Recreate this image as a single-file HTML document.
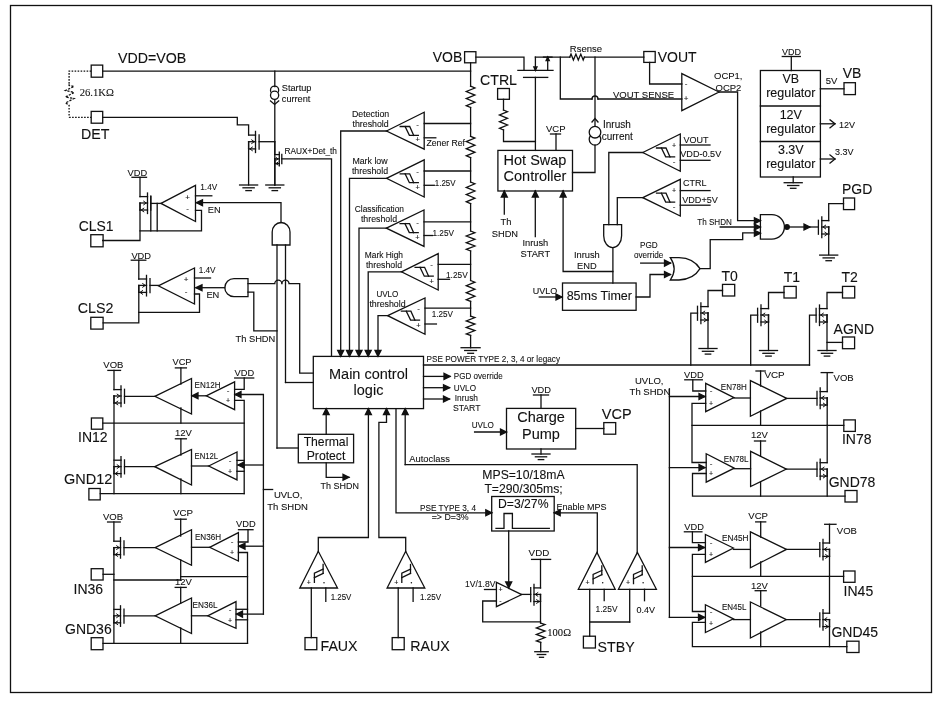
<!DOCTYPE html>
<html><head><meta charset="utf-8"><style>
html,body{margin:0;padding:0;background:#fff;}
svg{display:block;will-change:transform;}
</style></head><body>
<svg width="947" height="704" viewBox="0 0 947 704">
<g fill="none" stroke="#111" stroke-width="1.3" stroke-linecap="square">
<rect x="10.5" y="5.5" width="921" height="687"/>
<text fill="#111" stroke="#111" stroke-width="0.1" x="118" y="62.8" font-size="14.2" text-anchor="start" font-family="Liberation Sans" >VDD=VOB</text>
<rect x="91.2" y="65.1" width="11.5" height="12.1"/>
<line x1="102.7" y1="71.2" x2="470.6" y2="71.2"/>
<rect x="91.2" y="111.4" width="11.5" height="11.8"/>
<text fill="#111" stroke="#111" stroke-width="0.1" x="81" y="138.8" font-size="14.2" text-anchor="start" font-family="Liberation Sans" >DET</text>
<g stroke-dasharray="1.6,1.4" stroke-linecap="butt">
<polyline points="91.2,71.2 69.1,71.2 69.1,84.3"/>
<polyline points="69.1,117.3 91.2,117.3"/>
<polyline points="69.1,105 69.1,117.3"/>
</g>
<g stroke-dasharray="2.2,1.3" stroke-linecap="butt">
<polyline points="69.1,84.3 69.1,85.5 74,86.5 65.5,90.5 74,92.5 65.5,97 74,98.5 65.5,103 69.1,105"/>
</g>
<text fill="#111" stroke="#111" stroke-width="0.1" x="79.7" y="96" font-size="11" text-anchor="start" font-family="Liberation Serif"  textLength="34.2" lengthAdjust="spacingAndGlyphs">26.1KΩ</text>
<polyline points="102.7,117.3 237.3,117.3 237.3,124.8 248.6,124.8 248.6,134.9"/>
<line x1="274.8" y1="71.2" x2="274.8" y2="86.7"/>
<circle cx="274.6" cy="90.2" r="4.1"/>
<circle cx="274.6" cy="95.3" r="4.1" fill="#fff"/>
<line x1="274.8" y1="99.7" x2="274.8" y2="185"/>
<polyline points="270.5,101 274.6,104.5 278.7,101"/>
<text fill="#111" stroke="#111" stroke-width="0.1" x="281.8" y="91.2" font-size="9.2" text-anchor="start" font-family="Liberation Sans" >Startup</text>
<text fill="#111" stroke="#111" stroke-width="0.1" x="281.8" y="101.6" font-size="9.2" text-anchor="start" font-family="Liberation Sans" >current</text>
<line x1="255.5" y1="131.4" x2="255.5" y2="152.5"/>
<line x1="259.1" y1="134.8" x2="259.1" y2="149.1"/>
<line x1="248.6" y1="135.1" x2="255.5" y2="135.1"/>
<line x1="248.6" y1="141.7" x2="255.5" y2="141.7"/>
<line x1="248.6" y1="148.9" x2="255.5" y2="148.9"/>
<line x1="248.6" y1="141.7" x2="248.6" y2="148.9"/>
<polyline stroke-width="1" points="251.7,139.9 254.3,141.7 251.7,143.5"/>
<polyline stroke-width="1" points="252.4,147.1 249.8,148.9 252.4,150.7"/>
<line x1="259.1" y1="141.7" x2="274.8" y2="141.7"/>
<line x1="248.6" y1="141.9" x2="248.6" y2="185"/>
<line x1="239.6" y1="185" x2="257.6" y2="185"/>
<line x1="243" y1="187.8" x2="254.2" y2="187.8"/>
<line x1="245.9" y1="190.6" x2="251.3" y2="190.6"/>
<line x1="274.8" y1="141.8" x2="274.8" y2="154.4"/>
<line x1="279.3" y1="152.2" x2="279.3" y2="165.9"/>
<line x1="281.8" y1="154.4" x2="281.8" y2="163.7"/>
<line x1="274.8" y1="154.6" x2="279.3" y2="154.6"/>
<line x1="274.8" y1="158.9" x2="279.3" y2="158.9"/>
<line x1="274.8" y1="163.6" x2="279.3" y2="163.6"/>
<line x1="274.8" y1="158.9" x2="274.8" y2="163.6"/>
<polyline stroke-width="1" points="276.2,157.6 278.1,158.9 276.2,160.2"/>
<polyline stroke-width="1" points="277.9,162.2 276,163.6 277.9,164.9"/>
<line x1="274.8" y1="159" x2="274.8" y2="185"/>
<line x1="265.8" y1="185" x2="283.8" y2="185"/>
<line x1="269.2" y1="187.8" x2="280.4" y2="187.8"/>
<line x1="272.1" y1="190.6" x2="277.5" y2="190.6"/>
<polyline points="281.8,158.9 331.5,158.9 331.5,356.4"/>
<text fill="#111" stroke="#111" stroke-width="0.1" x="284.5" y="153.5" font-size="9.3" text-anchor="start" font-family="Liberation Sans"  textLength="52.5" lengthAdjust="spacingAndGlyphs">RAUX+Det_th</text>
<text fill="#111" stroke="#111" stroke-width="0.1" x="127.5" y="175.9" font-size="9.3" text-anchor="start" font-family="Liberation Sans" >VDD</text>
<line x1="132" y1="177.3" x2="146.5" y2="177.3"/>
<polyline points="140,177.3 140,196.6"/>
<line x1="147.5" y1="193" x2="147.5" y2="213.5"/>
<line x1="150.8" y1="196.3" x2="150.8" y2="210.2"/>
<line x1="140" y1="196.6" x2="147.5" y2="196.6"/>
<line x1="140" y1="203" x2="147.5" y2="203"/>
<line x1="140" y1="210" x2="147.5" y2="210"/>
<line x1="140" y1="203" x2="140" y2="210"/>
<polyline stroke-width="1" points="143.7,201.2 146.3,203 143.7,204.8"/>
<polyline stroke-width="1" points="143.8,208.2 141.2,210 143.8,211.8"/>
<polyline points="150.8,196.2 150.8,230.8"/>
<line x1="157.2" y1="203.4" x2="157.2" y2="230.8"/>
<line x1="150.8" y1="203.4" x2="161" y2="203.4"/>
<polyline points="140,203.4 140,240.5 102.7,240.5"/>
<polyline points="140,230.8 201.5,230.8 201.5,210.3 195.5,210.3"/>
<polygon fill="none" points="161,203.4 195.5,185.3 195.5,221.5"/>
<text fill="#111" stroke="#111" stroke-width="0.1" x="187.5" y="199.5" font-size="8" text-anchor="middle" font-family="Liberation Sans" >+</text>
<text fill="#111" stroke="#111" stroke-width="0.1" x="187.5" y="211" font-size="8" text-anchor="middle" font-family="Liberation Sans" >-</text>
<line x1="195.5" y1="195.8" x2="211.8" y2="195.8"/>
<text fill="#111" stroke="#111" stroke-width="0.1" x="200.3" y="189.8" font-size="9.3" text-anchor="start" font-family="Liberation Sans"  textLength="16.9" lengthAdjust="spacingAndGlyphs">1.4V</text>
<polyline points="281,222.6 281,202.7 196.5,202.7"/>
<polygon fill="#111" points="196.5,202.7 202.5,199.7 202.5,205.7"/>
<text fill="#111" stroke="#111" stroke-width="0.1" x="207.8" y="212.7" font-size="9.3" text-anchor="start" font-family="Liberation Sans" >EN</text>
<text fill="#111" stroke="#111" stroke-width="0.1" x="78.7" y="230.8" font-size="14.5" text-anchor="start" font-family="Liberation Sans"  textLength="34.8" lengthAdjust="spacingAndGlyphs">CLS1</text>
<rect x="90.8" y="234.7" width="12.3" height="12.1"/>
<text fill="#111" stroke="#111" stroke-width="0.1" x="131.4" y="258.8" font-size="9.3" text-anchor="start" font-family="Liberation Sans" >VDD</text>
<line x1="131.3" y1="260.2" x2="145.8" y2="260.2"/>
<polyline points="138.8,260.2 138.8,279"/>
<line x1="146.5" y1="275.4" x2="146.5" y2="295.9"/>
<line x1="150" y1="278.7" x2="150" y2="292.6"/>
<line x1="138.8" y1="279" x2="146.5" y2="279"/>
<line x1="138.8" y1="285.4" x2="146.5" y2="285.4"/>
<line x1="138.8" y1="292.4" x2="146.5" y2="292.4"/>
<line x1="138.8" y1="285.4" x2="138.8" y2="292.4"/>
<polyline stroke-width="1" points="142.7,283.6 145.3,285.4 142.7,287.2"/>
<polyline stroke-width="1" points="142.6,290.6 140,292.4 142.6,294.2"/>
<line x1="150" y1="285.4" x2="158.3" y2="285.4"/>
<polyline points="138.8,285.8 138.8,322.8 103.1,322.8"/>
<polyline points="138.8,312.4 199.5,312.4 199.5,294 194.5,294"/>
<polygon fill="none" points="158.3,285.8 194.5,268 194.5,304"/>
<text fill="#111" stroke="#111" stroke-width="0.1" x="186" y="282" font-size="8" text-anchor="middle" font-family="Liberation Sans" >+</text>
<text fill="#111" stroke="#111" stroke-width="0.1" x="186" y="293.5" font-size="8" text-anchor="middle" font-family="Liberation Sans" >-</text>
<line x1="194.5" y1="278" x2="210.5" y2="278"/>
<text fill="#111" stroke="#111" stroke-width="0.1" x="198.7" y="272.6" font-size="9.3" text-anchor="start" font-family="Liberation Sans"  textLength="16.9" lengthAdjust="spacingAndGlyphs">1.4V</text>
<polyline points="224.7,287.7 196,287.7"/>
<polygon fill="#111" points="196,287.7 202,284.7 202,290.7"/>
<text fill="#111" stroke="#111" stroke-width="0.1" x="206.4" y="298" font-size="9.3" text-anchor="start" font-family="Liberation Sans" >EN</text>
<text fill="#111" stroke="#111" stroke-width="0.1" x="77.8" y="313.2" font-size="14.5" text-anchor="start" font-family="Liberation Sans"  textLength="35.7" lengthAdjust="spacingAndGlyphs">CLS2</text>
<rect x="90.8" y="317.3" width="12.3" height="11.8"/>
<path d="M272.2,245 V232 A8.9,9.5 0 0 1 290,232 V245 Z"/>
<path d="M248,278.6 H234 A9.2,9.05 0 0 0 234,296.7 H248 Z"/>
<line x1="277" y1="245" x2="277" y2="448"/>
<line x1="285.5" y1="245" x2="285.5" y2="382.5"/>
<line x1="285.5" y1="382.5" x2="313.3" y2="382.5"/>
<path d="M248,283.6 H274.8 A3.5,3.5 0 0 1 281.8,283.6 H282 A3.5,3.5 0 0 1 289,283.6 H299.7 V373.1 H313.3"/>
<polyline points="248,292.2 253.8,292.2 253.8,330.9 277,330.9"/>
<text fill="#111" stroke="#111" stroke-width="0.1" x="235.5" y="342" font-size="9.3" text-anchor="start" font-family="Liberation Sans" >Th SHDN</text>
<polyline points="277,448 298.3,448"/>
<line x1="470.6" y1="62.8" x2="470.6" y2="86.2"/>
<polyline points="470.6,86.2 474.9,88 466.3,91.5 474.9,95.1 466.3,98.6 474.9,102.2 466.3,105.7 470.6,107.5"/>
<line x1="470.6" y1="107.5" x2="470.6" y2="136.3"/>
<polyline points="470.6,136.3 474.9,138.1 466.3,141.6 474.9,145.2 466.3,148.7 474.9,152.3 466.3,155.8 470.6,157.6"/>
<line x1="470.6" y1="157.6" x2="470.6" y2="182"/>
<polyline points="470.6,182 474.9,183.8 466.3,187.4 474.9,191 466.3,194.6 474.9,198.2 466.3,201.8 470.6,203.6"/>
<line x1="470.6" y1="203.6" x2="470.6" y2="231"/>
<polyline points="470.6,231 474.9,232.7 466.3,236 474.9,239.3 466.3,242.7 474.9,246 466.3,249.3 470.6,251"/>
<line x1="470.6" y1="251" x2="470.6" y2="280.5"/>
<polyline points="470.6,280.5 474.9,282.2 466.3,285.7 474.9,289.2 466.3,292.7 474.9,296.2 466.3,299.7 470.6,301.4"/>
<line x1="470.6" y1="301.4" x2="470.6" y2="316"/>
<polyline points="470.6,316 474.9,317.6 466.3,320.9 474.9,324.1 466.3,327.4 474.9,330.6 466.3,333.9 470.6,335.5"/>
<line x1="470.6" y1="335.5" x2="470.6" y2="347.7"/>
<line x1="461.1" y1="347.7" x2="480.1" y2="347.7"/>
<line x1="464.7" y1="350.5" x2="476.5" y2="350.5"/>
<line x1="467.8" y1="353.3" x2="473.5" y2="353.3"/>
<polygon fill="none" points="386.5,131 424.2,112.2 424.2,149.1"/>
<path d="M400.2,126.5 H409.7 L413.7,135.4"/>
<path d="M405.1,126.5 L409.4,135.4 H418.3"/>
<text fill="#111" stroke="#111" stroke-width="0.1" x="417.7" y="126.5" font-size="8" text-anchor="middle" font-family="Liberation Sans" >-</text>
<text fill="#111" stroke="#111" stroke-width="0.1" x="417.7" y="142.1" font-size="7.5" text-anchor="middle" font-family="Liberation Sans" >+</text>
<line x1="424.2" y1="123.5" x2="470.6" y2="123.5"/>
<line x1="424.2" y1="137.8" x2="435.8" y2="137.8"/>
<polyline points="386.5,131 340.7,131 340.7,356.4"/>
<polygon fill="#111" points="340.7,356.4 337.7,350.4 343.7,350.4"/>
<text fill="#111" stroke="#111" stroke-width="0.1" x="370.6" y="117.3" font-size="8.8" text-anchor="middle" font-family="Liberation Sans" >Detection</text>
<text fill="#111" stroke="#111" stroke-width="0.1" x="370.6" y="127" font-size="8.8" text-anchor="middle" font-family="Liberation Sans" >threshold</text>
<text fill="#111" stroke="#111" stroke-width="0.1" x="426.5" y="145.5" font-size="9" text-anchor="start" font-family="Liberation Sans"  textLength="38.5" lengthAdjust="spacingAndGlyphs">Zener Ref</text>
<polygon fill="none" points="386.5,178.3 424.2,159.8 424.2,197"/>
<path d="M400.2,173.8 H409.7 L413.7,182.7"/>
<path d="M405.1,173.8 L409.4,182.7 H418.3"/>
<text fill="#111" stroke="#111" stroke-width="0.1" x="417.7" y="174" font-size="8" text-anchor="middle" font-family="Liberation Sans" >-</text>
<text fill="#111" stroke="#111" stroke-width="0.1" x="417.7" y="189.6" font-size="7.5" text-anchor="middle" font-family="Liberation Sans" >+</text>
<line x1="424.2" y1="171" x2="470.6" y2="171"/>
<line x1="424.2" y1="185.3" x2="434.3" y2="185.3"/>
<polyline points="386.5,178.3 349.5,178.3 349.5,356.4"/>
<polygon fill="#111" points="349.5,356.4 346.5,350.4 352.5,350.4"/>
<text fill="#111" stroke="#111" stroke-width="0.1" x="370" y="164.2" font-size="8.8" text-anchor="middle" font-family="Liberation Sans" >Mark low</text>
<text fill="#111" stroke="#111" stroke-width="0.1" x="370" y="173.6" font-size="8.8" text-anchor="middle" font-family="Liberation Sans" >threshold</text>
<text fill="#111" stroke="#111" stroke-width="0.1" x="434.8" y="186" font-size="9" text-anchor="start" font-family="Liberation Sans"  textLength="20.7" lengthAdjust="spacingAndGlyphs">1.25V</text>
<polygon fill="none" points="386.4,228.2 424,210 424,246.4"/>
<path d="M400.1,223.7 H409.6 L413.6,232.6"/>
<path d="M405,223.7 L409.3,232.6 H418.2"/>
<text fill="#111" stroke="#111" stroke-width="0.1" x="417.5" y="224.8" font-size="8" text-anchor="middle" font-family="Liberation Sans" >-</text>
<text fill="#111" stroke="#111" stroke-width="0.1" x="417.5" y="239.8" font-size="7.5" text-anchor="middle" font-family="Liberation Sans" >+</text>
<line x1="424" y1="221.8" x2="470.6" y2="221.8"/>
<line x1="424" y1="235.5" x2="432.5" y2="235.5"/>
<polyline points="386.4,228.2 359,228.2 359,356.4"/>
<polygon fill="#111" points="359,356.4 356,350.4 362,350.4"/>
<text fill="#111" stroke="#111" stroke-width="0.1" x="354.8" y="212" font-size="8.8" text-anchor="start" font-family="Liberation Sans"  textLength="49.2" lengthAdjust="spacingAndGlyphs">Classification</text>
<text fill="#111" stroke="#111" stroke-width="0.1" x="379" y="222.4" font-size="8.8" text-anchor="middle" font-family="Liberation Sans" >threshold</text>
<text fill="#111" stroke="#111" stroke-width="0.1" x="432.5" y="236" font-size="9" text-anchor="start" font-family="Liberation Sans"  textLength="21.5" lengthAdjust="spacingAndGlyphs">1.25V</text>
<polygon fill="none" points="401.4,271.8 438.2,253.6 438.2,290"/>
<path d="M415.1,267.3 H424.6 L428.6,276.2"/>
<path d="M420,267.3 L424.3,276.2 H433.2"/>
<text fill="#111" stroke="#111" stroke-width="0.1" x="431.7" y="267.3" font-size="8" text-anchor="middle" font-family="Liberation Sans" >-</text>
<text fill="#111" stroke="#111" stroke-width="0.1" x="431.7" y="283.6" font-size="7.5" text-anchor="middle" font-family="Liberation Sans" >+</text>
<line x1="438.2" y1="264.3" x2="470.6" y2="264.3"/>
<line x1="438.2" y1="279.3" x2="449.5" y2="279.3"/>
<polyline points="401.4,271.8 368.2,271.8 368.2,356.4"/>
<polygon fill="#111" points="368.2,356.4 365.2,350.4 371.2,350.4"/>
<text fill="#111" stroke="#111" stroke-width="0.1" x="364.8" y="257.7" font-size="8.8" text-anchor="start" font-family="Liberation Sans"  textLength="38.2" lengthAdjust="spacingAndGlyphs">Mark High</text>
<text fill="#111" stroke="#111" stroke-width="0.1" x="384" y="268.3" font-size="8.8" text-anchor="middle" font-family="Liberation Sans" >threshold</text>
<text fill="#111" stroke="#111" stroke-width="0.1" x="446" y="277.5" font-size="9" text-anchor="start" font-family="Liberation Sans"  textLength="21.7" lengthAdjust="spacingAndGlyphs">1.25V</text>
<polygon fill="none" points="387.7,315.7 425,298 425,334.3"/>
<path d="M401.4,311.2 H410.9 L414.9,320.1"/>
<path d="M406.3,311.2 L410.6,320.1 H419.5"/>
<text fill="#111" stroke="#111" stroke-width="0.1" x="418.5" y="311.2" font-size="8" text-anchor="middle" font-family="Liberation Sans" >-</text>
<text fill="#111" stroke="#111" stroke-width="0.1" x="418.5" y="328.3" font-size="7.5" text-anchor="middle" font-family="Liberation Sans" >+</text>
<line x1="425" y1="308.2" x2="470.6" y2="308.2"/>
<line x1="425" y1="324" x2="436.4" y2="324"/>
<polyline points="387.7,315.7 378,315.7 378,356.4"/>
<polygon fill="#111" points="378,356.4 375,350.4 381,350.4"/>
<text fill="#111" stroke="#111" stroke-width="0.1" x="376.4" y="296.8" font-size="8.8" text-anchor="start" font-family="Liberation Sans"  textLength="22" lengthAdjust="spacingAndGlyphs">UVLO</text>
<text fill="#111" stroke="#111" stroke-width="0.1" x="387.5" y="307.2" font-size="8.8" text-anchor="middle" font-family="Liberation Sans" >threshold</text>
<text fill="#111" stroke="#111" stroke-width="0.1" x="431.8" y="317.3" font-size="9" text-anchor="start" font-family="Liberation Sans"  textLength="21.2" lengthAdjust="spacingAndGlyphs">1.25V</text>
<rect x="313.3" y="356.4" width="110.2" height="52.2"/>
<text fill="#111" stroke="#111" stroke-width="0.1" x="368.5" y="378.7" font-size="14.5" text-anchor="middle" font-family="Liberation Sans" >Main control</text>
<text fill="#111" stroke="#111" stroke-width="0.1" x="368.5" y="395.2" font-size="14.5" text-anchor="middle" font-family="Liberation Sans" >logic</text>
<line x1="423.5" y1="365" x2="809.5" y2="365"/>
<text fill="#111" stroke="#111" stroke-width="0.1" x="426.5" y="361.7" font-size="9.8" text-anchor="start" font-family="Liberation Sans"  textLength="133.5" lengthAdjust="spacingAndGlyphs">PSE POWER TYPE 2, 3, 4 or legacy</text>
<line x1="423.5" y1="376.4" x2="450" y2="376.4"/>
<polygon fill="#111" points="450,376.4 444,373.4 444,379.4"/>
<text fill="#111" stroke="#111" stroke-width="0.1" x="453.8" y="378.5" font-size="9.3" text-anchor="start" font-family="Liberation Sans"  textLength="48.9" lengthAdjust="spacingAndGlyphs">PGD override</text>
<line x1="423.5" y1="387.7" x2="449.5" y2="387.7"/>
<polygon fill="#111" points="449.5,387.7 443.5,384.7 443.5,390.7"/>
<text fill="#111" stroke="#111" stroke-width="0.1" x="453.8" y="390.7" font-size="9.3" text-anchor="start" font-family="Liberation Sans"  textLength="22.2" lengthAdjust="spacingAndGlyphs">UVLO</text>
<line x1="423.5" y1="399" x2="449.5" y2="399"/>
<polygon fill="#111" points="449.5,399 443.5,396 443.5,402"/>
<text fill="#111" stroke="#111" stroke-width="0.1" x="454.8" y="400.5" font-size="9.3" text-anchor="start" font-family="Liberation Sans"  textLength="23.2" lengthAdjust="spacingAndGlyphs">Inrush</text>
<text fill="#111" stroke="#111" stroke-width="0.1" x="452.9" y="410.5" font-size="9.3" text-anchor="start" font-family="Liberation Sans"  textLength="27.6" lengthAdjust="spacingAndGlyphs">START</text>
<rect x="298.3" y="434.3" width="55.3" height="28.5"/>
<text fill="#111" stroke="#111" stroke-width="0.1" x="326" y="445.6" font-size="12.2" text-anchor="middle" font-family="Liberation Sans" >Thermal</text>
<text fill="#111" stroke="#111" stroke-width="0.1" x="326" y="460" font-size="12.2" text-anchor="middle" font-family="Liberation Sans" >Protect</text>
<line x1="326.2" y1="434.3" x2="326.2" y2="408.6"/>
<polygon fill="#111" points="326.2,408.6 323.2,414.6 329.2,414.6"/>
<polyline points="326.2,462.8 326.2,477.3 349,477.3"/>
<polygon fill="#111" points="349,477.3 343,474.3 343,480.3"/>
<text fill="#111" stroke="#111" stroke-width="0.1" x="320.6" y="489.2" font-size="9.3" text-anchor="start" font-family="Liberation Sans"  textLength="38.4" lengthAdjust="spacingAndGlyphs">Th SHDN</text>
<polygon fill="none" points="318.3,551.3 299.8,588 337.5,588"/>
<path d="M314.4,582.3 V573.1 L323.1,569.2"/>
<path d="M314.4,577.7 L323.1,573.4"/>
<path d="M323.1,564.5 V573.4"/>
<text fill="#111" stroke="#111" stroke-width="0.1" x="308.9" y="584.5" font-size="7" text-anchor="middle" font-family="Liberation Sans" >+</text>
<circle cx="324.0" cy="582.8" r="0.75" fill="#111" stroke="none"/>
<polyline points="318.3,551.3 318.3,537.5 368.4,537.5 368.4,408.6"/>
<polygon fill="#111" points="368.4,408.6 365.4,414.6 371.4,414.6"/>
<line x1="311.3" y1="588" x2="311.3" y2="637.6"/>
<line x1="325.8" y1="588" x2="325.8" y2="601.4"/>
<text fill="#111" stroke="#111" stroke-width="0.1" x="330.7" y="599.9" font-size="8.5" text-anchor="start" font-family="Liberation Sans"  textLength="20.7" lengthAdjust="spacingAndGlyphs">1.25V</text>
<rect x="305" y="637.6" width="11.8" height="12.1"/>
<text fill="#111" stroke="#111" stroke-width="0.1" x="320.5" y="651.4" font-size="14.2" text-anchor="start" font-family="Liberation Sans" >FAUX</text>
<polygon fill="none" points="405.7,551.3 387.1,588 424.8,588"/>
<path d="M401.8,582.3 V573.1 L410.5,569.2"/>
<path d="M401.8,577.7 L410.5,573.4"/>
<path d="M410.5,564.5 V573.4"/>
<text fill="#111" stroke="#111" stroke-width="0.1" x="396.3" y="584.5" font-size="7" text-anchor="middle" font-family="Liberation Sans" >+</text>
<circle cx="411.4" cy="582.8" r="0.75" fill="#111" stroke="none"/>
<polyline points="405.7,551.3 405.7,537.5 378.9,537.5 378.9,422.3 386.5,422.3 386.5,408.6"/>
<polygon fill="#111" points="386.5,408.6 383.5,414.6 389.5,414.6"/>
<line x1="398.2" y1="588" x2="398.2" y2="637.6"/>
<line x1="413.1" y1="588" x2="413.1" y2="601.4"/>
<text fill="#111" stroke="#111" stroke-width="0.1" x="420" y="600" font-size="8.5" text-anchor="start" font-family="Liberation Sans"  textLength="21" lengthAdjust="spacingAndGlyphs">1.25V</text>
<rect x="392.2" y="637.6" width="12" height="12.1"/>
<text fill="#111" stroke="#111" stroke-width="0.1" x="410.3" y="651.4" font-size="14.2" text-anchor="start" font-family="Liberation Sans" >RAUX</text>
<line x1="405.2" y1="408.6" x2="405.2" y2="464.6"/>
<polygon fill="#111" points="405.2,408.6 402.2,414.6 408.2,414.6"/>
<polyline points="405.2,464.6 637.2,464.6 637.2,552.4"/>
<text fill="#111" stroke="#111" stroke-width="0.1" x="409.3" y="461.8" font-size="9.5" text-anchor="start" font-family="Liberation Sans"  textLength="40.5" lengthAdjust="spacingAndGlyphs">Autoclass</text>
<polyline points="396,408.6 396,512.8 491.8,512.8"/>
<polygon fill="#111" points="491.8,512.8 485.8,509.8 485.8,515.8"/>
<text fill="#111" stroke="#111" stroke-width="0.1" x="420" y="510.5" font-size="8.8" text-anchor="start" font-family="Liberation Sans"  textLength="56" lengthAdjust="spacingAndGlyphs">PSE TYPE 3, 4</text>
<text fill="#111" stroke="#111" stroke-width="0.1" x="431.7" y="519.5" font-size="8.8" text-anchor="start" font-family="Liberation Sans"  textLength="37" lengthAdjust="spacingAndGlyphs">=&gt; D=3%</text>
<rect x="506.5" y="408.4" width="69.2" height="40.6"/>
<text fill="#111" stroke="#111" stroke-width="0.1" x="541" y="421.7" font-size="14.5" text-anchor="middle" font-family="Liberation Sans" >Charge</text>
<text fill="#111" stroke="#111" stroke-width="0.1" x="541" y="438.9" font-size="14.5" text-anchor="middle" font-family="Liberation Sans" >Pump</text>
<text fill="#111" stroke="#111" stroke-width="0.1" x="531.4" y="392.8" font-size="9.3" text-anchor="start" font-family="Liberation Sans" >VDD</text>
<line x1="533.5" y1="395" x2="548.5" y2="395"/>
<line x1="541" y1="395" x2="541" y2="408.4"/>
<line x1="541" y1="449" x2="541" y2="454"/>
<line x1="532" y1="454" x2="550" y2="454"/>
<line x1="535.4" y1="456.8" x2="546.6" y2="456.8"/>
<line x1="538.3" y1="459.6" x2="543.7" y2="459.6"/>
<text fill="#111" stroke="#111" stroke-width="0.1" x="471.7" y="427.7" font-size="9" text-anchor="start" font-family="Liberation Sans"  textLength="22.1" lengthAdjust="spacingAndGlyphs">UVLO</text>
<line x1="474.6" y1="432" x2="506.5" y2="432"/>
<polygon fill="#111" points="506.5,432 500.5,429 500.5,435"/>
<line x1="575.7" y1="428.5" x2="603.8" y2="428.5"/>
<rect x="603.8" y="422.6" width="11.9" height="11.6"/>
<text fill="#111" stroke="#111" stroke-width="0.1" x="601.8" y="418.8" font-size="14.5" text-anchor="start" font-family="Liberation Sans" >VCP</text>
<text fill="#111" stroke="#111" stroke-width="0.1" x="523.5" y="478.5" font-size="12.2" text-anchor="middle" font-family="Liberation Sans" >MPS=10/18mA</text>
<text fill="#111" stroke="#111" stroke-width="0.1" x="523.5" y="492.7" font-size="12.2" text-anchor="middle" font-family="Liberation Sans" >T=290/305ms;</text>
<rect x="491.7" y="496.5" width="62.5" height="34.5"/>
<text fill="#111" stroke="#111" stroke-width="0.1" x="498" y="507.5" font-size="12.2" text-anchor="start" font-family="Liberation Sans" >D=3/27%</text>
<polyline points="496,528.3 504,528.3 504,513.5 512.4,513.5 512.4,528.3 549.3,528.3"/>
<text fill="#111" stroke="#111" stroke-width="0.1" x="556.5" y="509.9" font-size="9" text-anchor="start" font-family="Liberation Sans" >Enable MPS</text>
<polyline points="597.3,552.4 597.3,512.8 554.2,512.8"/>
<polygon fill="#111" points="554.2,512.8 560.2,509.8 560.2,515.8"/>
<line x1="508.7" y1="531" x2="508.7" y2="587"/>
<polygon fill="#111" points="508.7,588 505.7,582 511.7,582"/>
<polygon fill="none" points="521.8,594.6 496.4,582.3 496.4,606.6"/>
<text fill="#111" stroke="#111" stroke-width="0.1" x="500.5" y="591.5" font-size="7" text-anchor="middle" font-family="Liberation Sans" >+</text>
<text fill="#111" stroke="#111" stroke-width="0.1" x="500.5" y="603" font-size="7" text-anchor="middle" font-family="Liberation Sans" >-</text>
<text fill="#111" stroke="#111" stroke-width="0.1" x="465" y="587" font-size="9" text-anchor="start" font-family="Liberation Sans"  textLength="30.4" lengthAdjust="spacingAndGlyphs">1V/1.8V</text>
<line x1="484.5" y1="589.5" x2="496.4" y2="589.5"/>
<polyline points="496.4,601 482.7,601 482.7,621.8 540.5,621.8"/>
<line x1="534" y1="584.3" x2="534" y2="605"/>
<line x1="530.7" y1="587.6" x2="530.7" y2="601.7"/>
<line x1="540.5" y1="587.9" x2="534" y2="587.9"/>
<line x1="540.5" y1="594.4" x2="534" y2="594.4"/>
<line x1="540.5" y1="601.5" x2="534" y2="601.5"/>
<line x1="540.5" y1="594.4" x2="540.5" y2="601.5"/>
<polyline stroke-width="1" points="537.8,592.6 535.2,594.4 537.8,596.2"/>
<polyline stroke-width="1" points="536.7,599.7 539.3,601.5 536.7,603.3"/>
<line x1="530.7" y1="594.4" x2="521.8" y2="594.4"/>
<polyline points="540.5,588 540.5,559.4"/>
<line x1="531.6" y1="559.4" x2="550.6" y2="559.4"/>
<text fill="#111" stroke="#111" stroke-width="0.1" x="528.6" y="556.2" font-size="9.3" text-anchor="start" font-family="Liberation Sans"  textLength="20.7" lengthAdjust="spacingAndGlyphs">VDD</text>
<line x1="540.5" y1="594.7" x2="540.5" y2="623"/>
<polyline points="540.7,623 545,624.6 536.4,627.9 545,631.1 536.4,634.4 545,637.6 536.4,640.9 540.7,642.5"/>
<line x1="540.7" y1="642.5" x2="540.7" y2="651.7"/>
<line x1="534.8" y1="651.7" x2="548.2" y2="651.7"/>
<line x1="537.3" y1="654.5" x2="545.7" y2="654.5"/>
<line x1="539.5" y1="657.3" x2="543.5" y2="657.3"/>
<text fill="#111" stroke="#111" stroke-width="0.1" x="547.3" y="635.6" font-size="11" text-anchor="start" font-family="Liberation Serif"  textLength="23.7" lengthAdjust="spacingAndGlyphs">100Ω</text>
<polygon fill="none" points="597,552.4 578.3,589.3 615.2,589.3"/>
<path d="M593.1,583.6 V574.4 L601.8,570.5"/>
<path d="M593.1,579 L601.8,574.7"/>
<path d="M601.8,565.8 V574.7"/>
<text fill="#111" stroke="#111" stroke-width="0.1" x="587.6" y="584.5" font-size="7" text-anchor="middle" font-family="Liberation Sans" >+</text>
<circle cx="602.7" cy="582.8" r="0.75" fill="#111" stroke="none"/>
<line x1="589.7" y1="589.3" x2="589.7" y2="636.2"/>
<line x1="604.2" y1="589.3" x2="604.2" y2="600.7"/>
<text fill="#111" stroke="#111" stroke-width="0.1" x="595.6" y="612" font-size="8.5" text-anchor="start" font-family="Liberation Sans"  textLength="21.9" lengthAdjust="spacingAndGlyphs">1.25V</text>
<polygon fill="none" points="637.4,552.4 618.4,589.3 656.4,589.3"/>
<path d="M633.5,583.6 V574.4 L642.2,570.5"/>
<path d="M633.5,579 L642.2,574.7"/>
<path d="M642.2,565.8 V574.7"/>
<text fill="#111" stroke="#111" stroke-width="0.1" x="628" y="584.5" font-size="7" text-anchor="middle" font-family="Liberation Sans" >+</text>
<circle cx="643.1" cy="582.8" r="0.75" fill="#111" stroke="none"/>
<line x1="629.7" y1="589.3" x2="629.7" y2="622"/>
<line x1="644.5" y1="589.3" x2="644.5" y2="600.7"/>
<text fill="#111" stroke="#111" stroke-width="0.1" x="636.5" y="613" font-size="8.5" text-anchor="start" font-family="Liberation Sans"  textLength="18.5" lengthAdjust="spacingAndGlyphs">0.4V</text>
<line x1="589.7" y1="622" x2="629.7" y2="622"/>
<rect x="583.4" y="636.2" width="12" height="11.8"/>
<text fill="#111" stroke="#111" stroke-width="0.1" x="597.6" y="651.8" font-size="14.2" text-anchor="start" font-family="Liberation Sans" >STBY</text>
<text fill="#111" stroke="#111" stroke-width="0.1" x="432.7" y="61.5" font-size="14" text-anchor="start" font-family="Liberation Sans" >VOB</text>
<rect x="464.6" y="51.7" width="11.3" height="11.1"/>
<polyline points="475.9,57.1 524,57.1 524,70.4"/>
<line x1="517.9" y1="70.4" x2="553" y2="70.4"/>
<line x1="523.6" y1="77.4" x2="547.7" y2="77.4"/>
<line x1="535.4" y1="77.4" x2="535.4" y2="150.4"/>
<line x1="535.4" y1="57.1" x2="535.4" y2="70.4"/>
<polygon fill="#111" points="535.4,70.4 533.8,66.9 537,66.9"/>
<line x1="547.7" y1="57.1" x2="547.7" y2="70.4"/>
<polygon fill="#111" points="547.7,57.1 546.1,60.6 549.3,60.6"/>
<line x1="543.5" y1="57.1" x2="552" y2="57.1"/>
<line x1="535.4" y1="57.1" x2="569.8" y2="57.1"/>
<polyline points="569.8,57.1 571,54.1 573.4,60.1 575.9,54.1 578.3,60.1 580.8,54.1 583.2,60.1 584.4,57.1"/>
<line x1="584.4" y1="57.1" x2="643.8" y2="57.1"/>
<rect x="643.8" y="51.5" width="11.4" height="10.9"/>
<text fill="#111" stroke="#111" stroke-width="0.1" x="657.7" y="61.7" font-size="14" text-anchor="start" font-family="Liberation Sans" >VOUT</text>
<text fill="#111" stroke="#111" stroke-width="0.1" x="569.8" y="51.7" font-size="9.5" text-anchor="start" font-family="Liberation Sans" >Rsense</text>
<polyline points="560.3,57.1 560.3,99 592,99"/>
<path d="M592,99 A3,3 0 0 1 598,99"/>
<line x1="598" y1="99" x2="681.8" y2="99"/>
<text fill="#111" stroke="#111" stroke-width="0.1" x="613" y="98" font-size="9.5" text-anchor="start" font-family="Liberation Sans" >VOUT SENSE</text>
<line x1="595" y1="57.1" x2="595" y2="127"/>
<polyline points="592,122 595,118.6 598,122"/>
<circle cx="595" cy="139.3" r="5.8"/>
<circle cx="595" cy="132.2" r="5.8" fill="#fff"/>
<polyline points="595,145.1 595,172.5 572.5,172.5"/>
<text fill="#111" stroke="#111" stroke-width="0.1" x="603" y="127.6" font-size="10" text-anchor="start" font-family="Liberation Sans" >Inrush</text>
<text fill="#111" stroke="#111" stroke-width="0.1" x="601.7" y="140" font-size="10" text-anchor="start" font-family="Liberation Sans" >current</text>
<polyline points="649.6,62.4 649.6,84 681.8,84"/>
<polygon fill="none" points="719,92 681.8,73.6 681.8,110.6"/>
<text fill="#111" stroke="#111" stroke-width="0.1" x="686" y="86" font-size="8" text-anchor="middle" font-family="Liberation Sans" >-</text>
<text fill="#111" stroke="#111" stroke-width="0.1" x="686" y="101" font-size="8" text-anchor="middle" font-family="Liberation Sans" >+</text>
<polyline points="719,92 737.6,92 737.6,220.7 760.4,220.7"/>
<polygon fill="#111" points="760.4,220.7 754.4,217.7 754.4,223.7"/>
<text fill="#111" stroke="#111" stroke-width="0.1" x="714" y="79.4" font-size="9.5" text-anchor="start" font-family="Liberation Sans" >OCP1,</text>
<text fill="#111" stroke="#111" stroke-width="0.1" x="715.5" y="90.8" font-size="9.5" text-anchor="start" font-family="Liberation Sans" >OCP2</text>
<text fill="#111" stroke="#111" stroke-width="0.1" x="480" y="84.5" font-size="14.3" text-anchor="start" font-family="Liberation Sans"  textLength="37" lengthAdjust="spacingAndGlyphs">CTRL</text>
<rect x="497.6" y="88.5" width="11.8" height="10.8"/>
<line x1="503.5" y1="99.3" x2="503.5" y2="110"/>
<polyline points="503.5,110 507.5,111.7 499.5,115 507.5,118.3 499.5,121.7 507.5,125 499.5,128.3 503.5,130"/>
<polyline points="503.5,130 503.5,141.5 535.4,141.5"/>
<text fill="#111" stroke="#111" stroke-width="0.1" x="546" y="132" font-size="9.5" text-anchor="start" font-family="Liberation Sans" >VCP</text>
<line x1="550.5" y1="134" x2="560.5" y2="134"/>
<line x1="556" y1="134" x2="556" y2="150.4"/>
<rect x="497.9" y="150.4" width="74.6" height="40.6"/>
<text fill="#111" stroke="#111" stroke-width="0.1" x="535" y="164.5" font-size="14.5" text-anchor="middle" font-family="Liberation Sans" >Hot Swap</text>
<text fill="#111" stroke="#111" stroke-width="0.1" x="535" y="181.3" font-size="14.5" text-anchor="middle" font-family="Liberation Sans" >Controller</text>
<line x1="504.3" y1="214.2" x2="504.3" y2="191"/>
<polygon fill="#111" points="504.3,191 501.3,197 507.3,197"/>
<line x1="535.3" y1="236.7" x2="535.3" y2="191"/>
<polygon fill="#111" points="535.3,191 532.3,197 538.3,197"/>
<polyline points="612.9,271.5 563.1,271.5 563.1,191"/>
<polygon fill="#111" points="563.1,191 560.1,197 566.1,197"/>
<text fill="#111" stroke="#111" stroke-width="0.1" x="505.9" y="225.3" font-size="9.3" text-anchor="middle" font-family="Liberation Sans" >Th</text>
<text fill="#111" stroke="#111" stroke-width="0.1" x="504.9" y="236.7" font-size="9.3" text-anchor="middle" font-family="Liberation Sans" >SHDN</text>
<text fill="#111" stroke="#111" stroke-width="0.1" x="535.3" y="245.6" font-size="9.3" text-anchor="middle" font-family="Liberation Sans" >Inrush</text>
<text fill="#111" stroke="#111" stroke-width="0.1" x="535.3" y="256.6" font-size="9.3" text-anchor="middle" font-family="Liberation Sans" >START</text>
<text fill="#111" stroke="#111" stroke-width="0.1" x="586.8" y="257.6" font-size="9.3" text-anchor="middle" font-family="Liberation Sans" >Inrush</text>
<text fill="#111" stroke="#111" stroke-width="0.1" x="586.8" y="268.5" font-size="9.3" text-anchor="middle" font-family="Liberation Sans" >END</text>
<polygon fill="none" points="642.8,152.5 680.3,134 680.3,171.3"/>
<path d="M656.5,148 H666 L670,156.9"/>
<path d="M661.4,148 L665.7,156.9 H674.6"/>
<text fill="#111" stroke="#111" stroke-width="0.1" x="674" y="148" font-size="7" text-anchor="middle" font-family="Liberation Sans" >+</text>
<text fill="#111" stroke="#111" stroke-width="0.1" x="674" y="164" font-size="8" text-anchor="middle" font-family="Liberation Sans" >-</text>
<line x1="680.3" y1="145" x2="710" y2="145"/>
<line x1="680.3" y1="160.3" x2="710" y2="160.3"/>
<text fill="#111" stroke="#111" stroke-width="0.1" x="683.4" y="142.7" font-size="9" text-anchor="start" font-family="Liberation Sans" >VOUT</text>
<text fill="#111" stroke="#111" stroke-width="0.1" x="680.3" y="156.7" font-size="9.1" text-anchor="start" font-family="Liberation Sans" >VDD-0.5V</text>
<polygon fill="none" points="642.8,197.7 680.3,179.4 680.3,216"/>
<path d="M656.5,193.2 H666 L670,202.1"/>
<path d="M661.4,193.2 L665.7,202.1 H674.6"/>
<text fill="#111" stroke="#111" stroke-width="0.1" x="674" y="193" font-size="7" text-anchor="middle" font-family="Liberation Sans" >+</text>
<text fill="#111" stroke="#111" stroke-width="0.1" x="674" y="209" font-size="8" text-anchor="middle" font-family="Liberation Sans" >-</text>
<line x1="680.3" y1="190.6" x2="710" y2="190.6"/>
<line x1="680.3" y1="205.2" x2="710" y2="205.2"/>
<text fill="#111" stroke="#111" stroke-width="0.1" x="683" y="186.4" font-size="9" text-anchor="start" font-family="Liberation Sans" >CTRL</text>
<text fill="#111" stroke="#111" stroke-width="0.1" x="682.2" y="202.8" font-size="9.1" text-anchor="start" font-family="Liberation Sans" >VDD+5V</text>
<polyline points="642.8,152.5 608.8,152.5 608.8,224.7"/>
<polyline points="642.8,197.7 617.3,197.7 617.3,224.7"/>
<path d="M603.7,224.7 H621.6 V235.7 A8.95,11.9 0 0 1 603.7,235.7 Z"/>
<line x1="612.9" y1="247.6" x2="612.9" y2="283"/>
<rect x="562.5" y="283" width="73.6" height="27.3"/>
<text fill="#111" stroke="#111" stroke-width="0.1" x="599.3" y="300.3" font-size="12.5" text-anchor="middle" font-family="Liberation Sans" >85ms Timer</text>
<text fill="#111" stroke="#111" stroke-width="0.1" x="532.7" y="293.8" font-size="9" text-anchor="start" font-family="Liberation Sans" >UVLO</text>
<line x1="539.3" y1="297" x2="562" y2="297"/>
<polygon fill="#111" points="562,297 556,294 556,300"/>
<polyline points="636.1,297 650,297 650,274.5 670,274.5"/>
<polygon fill="#111" points="670.5,274.5 664.5,271.5 664.5,277.5"/>
<path d="M670.3,257.6 Q678,268.7 670.3,280 H679 Q693.5,279.5 700,268.7 Q693.5,258 679,257.6 Z"/>
<line x1="640.7" y1="263.1" x2="670.5" y2="263.1"/>
<polygon fill="#111" points="670.5,263.1 664.5,260.1 664.5,266.1"/>
<text fill="#111" stroke="#111" stroke-width="0.1" x="640" y="247.6" font-size="9" text-anchor="start" font-family="Liberation Sans"  textLength="17.7" lengthAdjust="spacingAndGlyphs">PGD</text>
<text fill="#111" stroke="#111" stroke-width="0.1" x="634" y="258" font-size="9" text-anchor="start" font-family="Liberation Sans"  textLength="29.3" lengthAdjust="spacingAndGlyphs">override</text>
<polyline points="700,268.7 710.2,268.7 710.2,239.6 742.7,239.6 742.7,232.9 760.4,232.9"/>
<polygon fill="#111" points="760.4,233.2 754.4,230.2 754.4,236.2"/>
<path d="M760.4,214.7 H771.8 A12.6,12.2 0 0 1 771.8,239.1 H760.4 Z"/>
<circle cx="787" cy="227" r="2.3" fill="#111"/>
<line x1="720.2" y1="227" x2="760.4" y2="227"/>
<polygon fill="#111" points="760.4,227 754.4,224 754.4,230"/>
<text fill="#111" stroke="#111" stroke-width="0.1" x="697.2" y="224.7" font-size="9.3" text-anchor="start" font-family="Liberation Sans"  textLength="34.7" lengthAdjust="spacingAndGlyphs">Th SHDN</text>
<line x1="789.5" y1="227" x2="817.6" y2="227"/>
<polygon fill="#111" points="810,227 804,224 804,230"/>
<line x1="821.8" y1="217" x2="821.8" y2="237.5"/>
<line x1="818.4" y1="220.3" x2="818.4" y2="234.2"/>
<line x1="828.7" y1="220.6" x2="821.8" y2="220.6"/>
<line x1="828.7" y1="227" x2="821.8" y2="227"/>
<line x1="828.7" y1="234" x2="821.8" y2="234"/>
<line x1="828.7" y1="227" x2="828.7" y2="234"/>
<polyline stroke-width="1" points="825.6,225.2 823,227 825.6,228.8"/>
<polyline stroke-width="1" points="824.9,232.2 827.5,234 824.9,235.8"/>
<polyline points="828.7,220.6 828.7,203.7 843.5,203.7"/>
<line x1="828.7" y1="227" x2="828.7" y2="254.7"/>
<line x1="819.7" y1="255.1" x2="837.7" y2="255.1"/>
<line x1="823.1" y1="257.9" x2="834.3" y2="257.9"/>
<line x1="826" y1="260.7" x2="831.4" y2="260.7"/>
<rect x="843.5" y="198" width="11.1" height="11.6"/>
<text fill="#111" stroke="#111" stroke-width="0.1" x="842" y="194.3" font-size="14" text-anchor="start" font-family="Liberation Sans" >PGD</text>
<rect x="760.4" y="70.5" width="60" height="106.5"/>
<line x1="760.4" y1="106" x2="820.4" y2="106"/>
<line x1="760.4" y1="141.5" x2="820.4" y2="141.5"/>
<text fill="#111" stroke="#111" stroke-width="0.1" x="790.8" y="83.2" font-size="12.5" text-anchor="middle" font-family="Liberation Sans" >VB</text>
<text fill="#111" stroke="#111" stroke-width="0.1" x="790.8" y="97.2" font-size="12.5" text-anchor="middle" font-family="Liberation Sans" >regulator</text>
<text fill="#111" stroke="#111" stroke-width="0.1" x="790.8" y="118.7" font-size="12.5" text-anchor="middle" font-family="Liberation Sans" >12V</text>
<text fill="#111" stroke="#111" stroke-width="0.1" x="790.8" y="132.6" font-size="12.5" text-anchor="middle" font-family="Liberation Sans" >regulator</text>
<text fill="#111" stroke="#111" stroke-width="0.1" x="790.8" y="153.7" font-size="12.5" text-anchor="middle" font-family="Liberation Sans" >3.3V</text>
<text fill="#111" stroke="#111" stroke-width="0.1" x="790.8" y="168" font-size="12.5" text-anchor="middle" font-family="Liberation Sans" >regulator</text>
<text fill="#111" stroke="#111" stroke-width="0.1" x="782" y="55.3" font-size="9" text-anchor="start" font-family="Liberation Sans" >VDD</text>
<line x1="782.3" y1="56.5" x2="800.3" y2="56.5"/>
<line x1="791.3" y1="56.5" x2="791.3" y2="70.5"/>
<line x1="793.2" y1="177" x2="793.2" y2="182.7"/>
<line x1="784.2" y1="182.7" x2="802.2" y2="182.7"/>
<line x1="787.6" y1="185.5" x2="798.8" y2="185.5"/>
<line x1="790.5" y1="188.3" x2="795.9" y2="188.3"/>
<text fill="#111" stroke="#111" stroke-width="0.1" x="825.8" y="83.7" font-size="9.5" text-anchor="start" font-family="Liberation Sans" >5V</text>
<line x1="820.4" y1="88.8" x2="844" y2="88.8"/>
<rect x="844" y="82.7" width="11.4" height="11.9"/>
<text fill="#111" stroke="#111" stroke-width="0.1" x="842.7" y="78" font-size="14" text-anchor="start" font-family="Liberation Sans" >VB</text>
<line x1="820.4" y1="123.8" x2="835" y2="123.8"/>
<polyline points="830,119.8 835,123.8 830,127.8"/>
<text fill="#111" stroke="#111" stroke-width="0.1" x="839" y="127.6" font-size="9" text-anchor="start" font-family="Liberation Sans" >12V</text>
<line x1="820.4" y1="159" x2="835" y2="159"/>
<polyline points="830,155 835,159 830,163"/>
<text fill="#111" stroke="#111" stroke-width="0.1" x="835" y="154.7" font-size="9" text-anchor="start" font-family="Liberation Sans" >3.3V</text>
<polyline points="690.8,365.1 690.8,313.2 697.5,313.2"/>
<line x1="700.9" y1="303" x2="700.9" y2="323.5"/>
<line x1="697.5" y1="306.3" x2="697.5" y2="320.2"/>
<line x1="708" y1="306.6" x2="700.9" y2="306.6"/>
<line x1="708" y1="313" x2="700.9" y2="313"/>
<line x1="708" y1="320" x2="700.9" y2="320"/>
<line x1="708" y1="313" x2="708" y2="320"/>
<polyline stroke-width="1" points="704.7,311.2 702.1,313 704.7,314.8"/>
<polyline stroke-width="1" points="704.2,318.2 706.8,320 704.2,321.8"/>
<polyline points="708,306.6 708,290.5 722.5,290.5"/>
<line x1="708" y1="313" x2="708" y2="348.5"/>
<line x1="699" y1="348.5" x2="717" y2="348.5"/>
<line x1="702.4" y1="351.3" x2="713.6" y2="351.3"/>
<line x1="705.3" y1="354.1" x2="710.7" y2="354.1"/>
<rect x="722.5" y="284.4" width="12.2" height="11.6"/>
<text fill="#111" stroke="#111" stroke-width="0.1" x="721.5" y="280.8" font-size="14" text-anchor="start" font-family="Liberation Sans" >T0</text>
<polyline points="750.7,365.1 750.7,315.2 757.6,315.2"/>
<line x1="761" y1="305" x2="761" y2="325.5"/>
<line x1="757.6" y1="308.3" x2="757.6" y2="322.2"/>
<line x1="768.5" y1="308.6" x2="761" y2="308.6"/>
<line x1="768.5" y1="315" x2="761" y2="315"/>
<line x1="768.5" y1="322" x2="761" y2="322"/>
<line x1="768.5" y1="315" x2="768.5" y2="322"/>
<polyline stroke-width="1" points="764.8,313.2 762.2,315 764.8,316.8"/>
<polyline stroke-width="1" points="764.7,320.2 767.3,322 764.7,323.8"/>
<polyline points="768.5,308.6 768.5,292.5 784,292.5"/>
<line x1="768.5" y1="315" x2="768.5" y2="350.5"/>
<line x1="759.5" y1="350.5" x2="777.5" y2="350.5"/>
<line x1="762.9" y1="353.3" x2="774.1" y2="353.3"/>
<line x1="765.8" y1="356.1" x2="771.2" y2="356.1"/>
<rect x="784" y="286.4" width="12.2" height="11.6"/>
<text fill="#111" stroke="#111" stroke-width="0.1" x="783.7" y="282" font-size="14" text-anchor="start" font-family="Liberation Sans" >T1</text>
<polyline points="809.5,365.1 809.5,315.2 816.1,315.2"/>
<line x1="819.5" y1="305" x2="819.5" y2="325.5"/>
<line x1="816.1" y1="308.3" x2="816.1" y2="322.2"/>
<line x1="827" y1="308.6" x2="819.5" y2="308.6"/>
<line x1="827" y1="315" x2="819.5" y2="315"/>
<line x1="827" y1="322" x2="819.5" y2="322"/>
<line x1="827" y1="315" x2="827" y2="322"/>
<polyline stroke-width="1" points="823.3,313.2 820.7,315 823.3,316.8"/>
<polyline stroke-width="1" points="823.2,320.2 825.8,322 823.2,323.8"/>
<polyline points="827,308.6 827,292.5 842.5,292.5"/>
<line x1="827" y1="315" x2="827" y2="350.5"/>
<line x1="818" y1="350.5" x2="836" y2="350.5"/>
<line x1="821.4" y1="353.3" x2="832.6" y2="353.3"/>
<line x1="824.3" y1="356.1" x2="829.7" y2="356.1"/>
<rect x="842.5" y="286.4" width="12.2" height="11.6"/>
<text fill="#111" stroke="#111" stroke-width="0.1" x="841.5" y="282" font-size="14" text-anchor="start" font-family="Liberation Sans" >T2</text>
<line x1="827" y1="342.4" x2="842.5" y2="342.4"/>
<rect x="842.5" y="337" width="12.1" height="11.7"/>
<text fill="#111" stroke="#111" stroke-width="0.1" x="833.6" y="333.5" font-size="14" text-anchor="start" font-family="Liberation Sans" >AGND</text>
<text fill="#111" stroke="#111" stroke-width="0.1" x="635" y="384" font-size="9.5" text-anchor="start" font-family="Liberation Sans" >UVLO,</text>
<text fill="#111" stroke="#111" stroke-width="0.1" x="629.6" y="394.9" font-size="9.5" text-anchor="start" font-family="Liberation Sans" >Th SHDN</text>
<line x1="669.4" y1="388.8" x2="669.4" y2="617.4"/>
<text fill="#111" stroke="#111" stroke-width="0.1" x="684" y="377.8" font-size="9.3" text-anchor="start" font-family="Liberation Sans" >VDD</text>
<line x1="684.8" y1="379.8" x2="702.3" y2="379.8"/>
<polyline points="692.8,379.8 692.8,391 705.7,391"/>
<line x1="669.4" y1="396.5" x2="705" y2="396.5"/>
<polygon fill="#111" points="705,396.5 699,393.5 699,399.5"/>
<polygon fill="none" points="734,397.6 705.7,383.3 705.7,411.6"/>
<text fill="#111" stroke="#111" stroke-width="0.1" x="711" y="393" font-size="8" text-anchor="middle" font-family="Liberation Sans" >-</text>
<text fill="#111" stroke="#111" stroke-width="0.1" x="711" y="405.5" font-size="7" text-anchor="middle" font-family="Liberation Sans" >+</text>
<text fill="#111" stroke="#111" stroke-width="0.1" x="720.8" y="389.5" font-size="9" text-anchor="start" font-family="Liberation Sans"  textLength="25.9" lengthAdjust="spacingAndGlyphs">EN78H</text>
<line x1="734" y1="398" x2="750.4" y2="398"/>
<polygon fill="none" points="786.7,398.4 750.4,380.6 750.4,416.3"/>
<text fill="#111" stroke="#111" stroke-width="0.1" x="764.4" y="377.8" font-size="9.3" text-anchor="start" font-family="Liberation Sans"  textLength="20.3" lengthAdjust="spacingAndGlyphs">VCP</text>
<line x1="756" y1="371" x2="765.2" y2="371"/>
<line x1="760.6" y1="371" x2="760.6" y2="386"/>
<line x1="760.6" y1="411" x2="760.6" y2="425.3"/>
<line x1="786.7" y1="398.4" x2="817" y2="398.4"/>
<line x1="820.2" y1="388" x2="820.2" y2="408.5"/>
<line x1="817" y1="391.3" x2="817" y2="405.2"/>
<line x1="827.2" y1="391.6" x2="820.2" y2="391.6"/>
<line x1="827.2" y1="398" x2="820.2" y2="398"/>
<line x1="827.2" y1="405" x2="820.2" y2="405"/>
<line x1="827.2" y1="398" x2="827.2" y2="405"/>
<polyline stroke-width="1" points="824,396.2 821.4,398 824,399.8"/>
<polyline stroke-width="1" points="823.4,403.2 826,405 823.4,406.8"/>
<polyline points="827.2,391.6 827.2,372.6"/>
<line x1="821.2" y1="372.6" x2="832.7" y2="372.6"/>
<line x1="827.2" y1="398" x2="827.2" y2="425.3"/>
<text fill="#111" stroke="#111" stroke-width="0.1" x="833.6" y="381.4" font-size="9.5" text-anchor="start" font-family="Liberation Sans" >VOB</text>
<polyline points="705.7,403.4 692,403.4 692,462.5 706.2,462.5"/>
<line x1="692" y1="425.3" x2="843.8" y2="425.3"/>
<rect x="843.8" y="419.9" width="11.5" height="11.5"/>
<text fill="#111" stroke="#111" stroke-width="0.1" x="841.9" y="443.7" font-size="14" text-anchor="start" font-family="Liberation Sans" >IN78</text>
<text fill="#111" stroke="#111" stroke-width="0.1" x="751" y="438" font-size="9.5" text-anchor="start" font-family="Liberation Sans" >12V</text>
<line x1="754.5" y1="441" x2="765.5" y2="441"/>
<line x1="760.6" y1="441" x2="760.6" y2="456"/>
<line x1="669.4" y1="467.6" x2="705" y2="467.6"/>
<polygon fill="#111" points="705,467.6 699,464.6 699,470.6"/>
<polygon fill="none" points="734.2,468.2 706.2,453.7 706.2,482.2"/>
<text fill="#111" stroke="#111" stroke-width="0.1" x="711" y="465.5" font-size="8" text-anchor="middle" font-family="Liberation Sans" >-</text>
<text fill="#111" stroke="#111" stroke-width="0.1" x="711" y="476" font-size="7" text-anchor="middle" font-family="Liberation Sans" >+</text>
<text fill="#111" stroke="#111" stroke-width="0.1" x="723.8" y="461.6" font-size="9" text-anchor="start" font-family="Liberation Sans"  textLength="24.7" lengthAdjust="spacingAndGlyphs">EN78L</text>
<line x1="734.2" y1="468.7" x2="750.6" y2="468.7"/>
<polygon fill="none" points="786.4,469.1 750.6,451.3 750.6,486.5"/>
<line x1="760.6" y1="482" x2="760.6" y2="496"/>
<line x1="786.4" y1="469.1" x2="817" y2="469.1"/>
<line x1="820.2" y1="459.1" x2="820.2" y2="479.6"/>
<line x1="817" y1="462.4" x2="817" y2="476.3"/>
<line x1="827.2" y1="462.7" x2="820.2" y2="462.7"/>
<line x1="827.2" y1="469.1" x2="820.2" y2="469.1"/>
<line x1="827.2" y1="476.1" x2="820.2" y2="476.1"/>
<line x1="827.2" y1="469.1" x2="827.2" y2="476.1"/>
<polyline stroke-width="1" points="824,467.3 821.4,469.1 824,470.9"/>
<polyline stroke-width="1" points="823.4,474.3 826,476.1 823.4,477.9"/>
<line x1="827.2" y1="425.3" x2="827.2" y2="462.7"/>
<line x1="827.2" y1="469.1" x2="827.2" y2="496.2"/>
<polyline points="706.2,473.5 692.5,473.5 692.5,496.2 845,496.2"/>
<rect x="845" y="490.5" width="12" height="11.5"/>
<text fill="#111" stroke="#111" stroke-width="0.1" x="828.7" y="486.9" font-size="14" text-anchor="start" font-family="Liberation Sans" >GND78</text>
<text fill="#111" stroke="#111" stroke-width="0.1" x="684.3" y="530" font-size="9.3" text-anchor="start" font-family="Liberation Sans" >VDD</text>
<line x1="684.4" y1="531.8" x2="701.9" y2="531.8"/>
<polyline points="692.4,531.8 692.4,542.6 705.4,542.6"/>
<line x1="669.4" y1="547.5" x2="704.5" y2="547.5"/>
<polygon fill="#111" points="704.5,547.5 698.5,544.5 698.5,550.5"/>
<polygon fill="none" points="733.4,548 705.4,534.5 705.4,562.4"/>
<text fill="#111" stroke="#111" stroke-width="0.1" x="711" y="545" font-size="8" text-anchor="middle" font-family="Liberation Sans" >-</text>
<text fill="#111" stroke="#111" stroke-width="0.1" x="711" y="557" font-size="7" text-anchor="middle" font-family="Liberation Sans" >+</text>
<text fill="#111" stroke="#111" stroke-width="0.1" x="722" y="541.3" font-size="9" text-anchor="start" font-family="Liberation Sans"  textLength="26.5" lengthAdjust="spacingAndGlyphs">EN45H</text>
<line x1="733.4" y1="549.4" x2="750.4" y2="549.4"/>
<polygon fill="none" points="786.4,549.4 750.4,531.8 750.4,567.8"/>
<text fill="#111" stroke="#111" stroke-width="0.1" x="748.3" y="519.2" font-size="9.3" text-anchor="start" font-family="Liberation Sans"  textLength="19.7" lengthAdjust="spacingAndGlyphs">VCP</text>
<line x1="755.7" y1="521.9" x2="765.7" y2="521.9"/>
<line x1="760.7" y1="521.9" x2="760.7" y2="537"/>
<line x1="760.7" y1="562" x2="760.7" y2="576.4"/>
<line x1="786.4" y1="549.4" x2="819.8" y2="549.4"/>
<line x1="823" y1="539.4" x2="823" y2="559.9"/>
<line x1="819.8" y1="542.7" x2="819.8" y2="556.6"/>
<line x1="829.5" y1="543" x2="823" y2="543"/>
<line x1="829.5" y1="549.4" x2="823" y2="549.4"/>
<line x1="829.5" y1="556.4" x2="823" y2="556.4"/>
<line x1="829.5" y1="549.4" x2="829.5" y2="556.4"/>
<polyline stroke-width="1" points="826.8,547.6 824.2,549.4 826.8,551.2"/>
<polyline stroke-width="1" points="825.7,554.6 828.3,556.4 825.7,558.2"/>
<polyline points="829.5,543 829.5,524.3"/>
<line x1="824.7" y1="524.3" x2="836" y2="524.3"/>
<line x1="829.5" y1="549.4" x2="829.5" y2="576.4"/>
<text fill="#111" stroke="#111" stroke-width="0.1" x="836.8" y="533.7" font-size="9.5" text-anchor="start" font-family="Liberation Sans" >VOB</text>
<polyline points="705.4,554.3 692.4,554.3 692.4,611.5 705.4,611.5"/>
<line x1="692.4" y1="576.4" x2="843.6" y2="576.4"/>
<rect x="843.6" y="571" width="11.4" height="11.3"/>
<text fill="#111" stroke="#111" stroke-width="0.1" x="843.6" y="595.8" font-size="14" text-anchor="start" font-family="Liberation Sans" >IN45</text>
<text fill="#111" stroke="#111" stroke-width="0.1" x="751" y="588.5" font-size="9.5" text-anchor="start" font-family="Liberation Sans" >12V</text>
<line x1="755.2" y1="590.7" x2="766.2" y2="590.7"/>
<line x1="760.7" y1="590.7" x2="760.7" y2="606"/>
<line x1="669.4" y1="617.4" x2="704.5" y2="617.4"/>
<polygon fill="#111" points="704.5,617.4 698.5,614.4 698.5,620.4"/>
<polygon fill="none" points="733.4,618.8 705.4,604.7 705.4,632.5"/>
<text fill="#111" stroke="#111" stroke-width="0.1" x="711" y="614" font-size="8" text-anchor="middle" font-family="Liberation Sans" >-</text>
<text fill="#111" stroke="#111" stroke-width="0.1" x="711" y="626" font-size="7" text-anchor="middle" font-family="Liberation Sans" >+</text>
<text fill="#111" stroke="#111" stroke-width="0.1" x="722" y="610" font-size="9" text-anchor="start" font-family="Liberation Sans"  textLength="24.4" lengthAdjust="spacingAndGlyphs">EN45L</text>
<line x1="733.4" y1="619.6" x2="750.4" y2="619.6"/>
<polygon fill="none" points="786.4,619.6 750.4,602 750.4,638"/>
<line x1="760.7" y1="632" x2="760.7" y2="646.6"/>
<line x1="786.4" y1="619.6" x2="819.8" y2="619.6"/>
<line x1="823" y1="609.6" x2="823" y2="630.1"/>
<line x1="819.8" y1="612.9" x2="819.8" y2="626.8"/>
<line x1="829.5" y1="613.2" x2="823" y2="613.2"/>
<line x1="829.5" y1="619.6" x2="823" y2="619.6"/>
<line x1="829.5" y1="626.6" x2="823" y2="626.6"/>
<line x1="829.5" y1="619.6" x2="829.5" y2="626.6"/>
<polyline stroke-width="1" points="826.8,617.8 824.2,619.6 826.8,621.4"/>
<polyline stroke-width="1" points="825.7,624.8 828.3,626.6 825.7,628.4"/>
<line x1="829.5" y1="576.4" x2="829.5" y2="613.2"/>
<line x1="829.5" y1="619.6" x2="829.5" y2="646.6"/>
<polyline points="705.4,622.3 692.4,622.3 692.4,646.6 846.8,646.6"/>
<rect x="846.8" y="641.2" width="12.2" height="11.3"/>
<text fill="#111" stroke="#111" stroke-width="0.1" x="831.4" y="637" font-size="14" text-anchor="start" font-family="Liberation Sans" >GND45</text>
<text fill="#111" stroke="#111" stroke-width="0.1" x="103.3" y="367.9" font-size="9.5" text-anchor="start" font-family="Liberation Sans" >VOB</text>
<line x1="107.9" y1="370.4" x2="120.5" y2="370.4"/>
<polyline points="114,370.4 114,389.6"/>
<line x1="121" y1="386" x2="121" y2="406.5"/>
<line x1="124.5" y1="389.3" x2="124.5" y2="403.2"/>
<line x1="114" y1="389.6" x2="121" y2="389.6"/>
<line x1="114" y1="396" x2="121" y2="396"/>
<line x1="114" y1="403" x2="121" y2="403"/>
<line x1="114" y1="396" x2="114" y2="403"/>
<polyline stroke-width="1" points="117.2,394.2 119.8,396 117.2,397.8"/>
<polyline stroke-width="1" points="117.8,401.2 115.2,403 117.8,404.8"/>
<line x1="114" y1="396" x2="114" y2="493.6"/>
<line x1="124.5" y1="396.3" x2="154.8" y2="396.3"/>
<polygon fill="none" points="154.8,396.3 191.5,378.5 191.5,414"/>
<text fill="#111" stroke="#111" stroke-width="0.1" x="172.5" y="365.3" font-size="9.3" text-anchor="start" font-family="Liberation Sans"  textLength="19" lengthAdjust="spacingAndGlyphs">VCP</text>
<line x1="175.4" y1="367.9" x2="186.4" y2="367.9"/>
<line x1="180.9" y1="367.9" x2="180.9" y2="384"/>
<line x1="180.9" y1="408" x2="180.9" y2="423.1"/>
<polyline points="206.2,395.8 192,395.8"/>
<polygon fill="#111" points="192,395.8 198,392.8 198,398.8"/>
<text fill="#111" stroke="#111" stroke-width="0.1" x="194.5" y="388" font-size="9" text-anchor="start" font-family="Liberation Sans"  textLength="26.1" lengthAdjust="spacingAndGlyphs">EN12H</text>
<polygon fill="none" points="206.2,395.8 234.6,381.8 234.6,409.7"/>
<text fill="#111" stroke="#111" stroke-width="0.1" x="228" y="392.5" font-size="8" text-anchor="middle" font-family="Liberation Sans" >-</text>
<text fill="#111" stroke="#111" stroke-width="0.1" x="228" y="403" font-size="7" text-anchor="middle" font-family="Liberation Sans" >+</text>
<text fill="#111" stroke="#111" stroke-width="0.1" x="234.6" y="376" font-size="9.3" text-anchor="start" font-family="Liberation Sans" >VDD</text>
<line x1="234.7" y1="378" x2="253.7" y2="378"/>
<polyline points="244.2,378 244.2,389.4 234.6,389.4"/>
<polyline points="263.4,541 263.4,394.5 235,394.5"/>
<polygon fill="#111" points="235,394.5 241,391.5 241,397.5"/>
<polyline points="234.6,400.3 244.2,400.3 244.2,493.6"/>
<line x1="102.8" y1="423.1" x2="244.2" y2="423.1"/>
<rect x="91.4" y="418" width="11.4" height="11.2"/>
<text fill="#111" stroke="#111" stroke-width="0.1" x="78" y="441.9" font-size="14" text-anchor="start" font-family="Liberation Sans" >IN12</text>
<text fill="#111" stroke="#111" stroke-width="0.1" x="175" y="435.8" font-size="9.5" text-anchor="start" font-family="Liberation Sans" >12V</text>
<line x1="175.4" y1="438.8" x2="186.4" y2="438.8"/>
<line x1="180.9" y1="438.8" x2="180.9" y2="455"/>
<line x1="121" y1="456.6" x2="121" y2="477.1"/>
<line x1="124.5" y1="459.9" x2="124.5" y2="473.8"/>
<line x1="114" y1="460.2" x2="121" y2="460.2"/>
<line x1="114" y1="466.6" x2="121" y2="466.6"/>
<line x1="114" y1="473.6" x2="121" y2="473.6"/>
<line x1="114" y1="466.6" x2="114" y2="473.6"/>
<polyline stroke-width="1" points="117.2,464.8 119.8,466.6 117.2,468.4"/>
<polyline stroke-width="1" points="117.8,471.8 115.2,473.6 117.8,475.4"/>
<line x1="124.5" y1="466.7" x2="154.8" y2="466.7"/>
<polygon fill="none" points="154.8,466.7 191.5,449.5 191.5,485"/>
<line x1="180.9" y1="479" x2="180.9" y2="493.6"/>
<line x1="208.7" y1="466" x2="191.5" y2="466"/>
<text fill="#111" stroke="#111" stroke-width="0.1" x="194.5" y="459.1" font-size="9" text-anchor="start" font-family="Liberation Sans"  textLength="23.6" lengthAdjust="spacingAndGlyphs">EN12L</text>
<polygon fill="none" points="208.7,466 237,452 237,479.9"/>
<text fill="#111" stroke="#111" stroke-width="0.1" x="230" y="463" font-size="8" text-anchor="middle" font-family="Liberation Sans" >-</text>
<text fill="#111" stroke="#111" stroke-width="0.1" x="230" y="474" font-size="7" text-anchor="middle" font-family="Liberation Sans" >+</text>
<line x1="237" y1="460.4" x2="244.2" y2="460.4"/>
<line x1="263.4" y1="465" x2="238" y2="465"/>
<polygon fill="#111" points="238,465 244,462 244,468"/>
<polyline points="237,471.3 244,471.3"/>
<line x1="100.3" y1="493.6" x2="244.2" y2="493.6"/>
<rect x="88.9" y="488.5" width="11.3" height="11.4"/>
<text fill="#111" stroke="#111" stroke-width="0.1" x="64.1" y="484" font-size="14.4" text-anchor="start" font-family="Liberation Sans"  textLength="48.3" lengthAdjust="spacingAndGlyphs">GND12</text>
<polyline points="263.4,489.5 272.6,489.5"/>
<text fill="#111" stroke="#111" stroke-width="0.1" x="273.9" y="498.3" font-size="9.5" text-anchor="start" font-family="Liberation Sans" >UVLO,</text>
<text fill="#111" stroke="#111" stroke-width="0.1" x="267.3" y="509.5" font-size="9.5" text-anchor="start" font-family="Liberation Sans" >Th SHDN</text>
<text fill="#111" stroke="#111" stroke-width="0.1" x="103" y="519.8" font-size="9.5" text-anchor="start" font-family="Liberation Sans" >VOB</text>
<line x1="107.6" y1="522" x2="120.2" y2="522"/>
<polyline points="113.9,522 113.9,541.2"/>
<line x1="120.5" y1="537.6" x2="120.5" y2="558.1"/>
<line x1="124" y1="540.9" x2="124" y2="554.8"/>
<line x1="113.9" y1="541.2" x2="120.5" y2="541.2"/>
<line x1="113.9" y1="547.6" x2="120.5" y2="547.6"/>
<line x1="113.9" y1="554.6" x2="120.5" y2="554.6"/>
<line x1="113.9" y1="547.6" x2="113.9" y2="554.6"/>
<polyline stroke-width="1" points="116.7,545.8 119.3,547.6 116.7,549.4"/>
<polyline stroke-width="1" points="117.7,552.8 115.1,554.6 117.7,556.4"/>
<line x1="113.9" y1="547.6" x2="113.9" y2="643.4"/>
<line x1="124" y1="547.6" x2="155.1" y2="547.6"/>
<polygon fill="none" points="155.1,547.6 191.5,529.7 191.5,565.3"/>
<text fill="#111" stroke="#111" stroke-width="0.1" x="173" y="516.4" font-size="9.3" text-anchor="start" font-family="Liberation Sans"  textLength="20" lengthAdjust="spacingAndGlyphs">VCP</text>
<line x1="175.2" y1="519.2" x2="186.2" y2="519.2"/>
<line x1="180.7" y1="519.2" x2="180.7" y2="536"/>
<line x1="180.7" y1="560" x2="180.7" y2="580"/>
<line x1="209.6" y1="547.3" x2="191.5" y2="547.3"/>
<text fill="#111" stroke="#111" stroke-width="0.1" x="194.9" y="539.7" font-size="9" text-anchor="start" font-family="Liberation Sans"  textLength="26.1" lengthAdjust="spacingAndGlyphs">EN36H</text>
<polygon fill="none" points="209.6,547.3 238.4,532.6 238.4,561"/>
<text fill="#111" stroke="#111" stroke-width="0.1" x="232" y="544" font-size="8" text-anchor="middle" font-family="Liberation Sans" >-</text>
<text fill="#111" stroke="#111" stroke-width="0.1" x="232" y="555" font-size="7" text-anchor="middle" font-family="Liberation Sans" >+</text>
<text fill="#111" stroke="#111" stroke-width="0.1" x="236" y="526.9" font-size="9.3" text-anchor="start" font-family="Liberation Sans" >VDD</text>
<line x1="238.5" y1="529.7" x2="253" y2="529.7"/>
<polyline points="248,529.7 248,542 238.4,542"/>
<line x1="263.4" y1="546.2" x2="239" y2="546.2"/>
<polygon fill="#111" points="239,546.2 245,543.2 245,549.2"/>
<polyline points="238.4,552.5 247.5,552.5 247.5,643.4"/>
<polyline points="103.1,574.3 113.9,574.3"/>
<line x1="113.9" y1="580" x2="180.7" y2="580"/>
<line x1="180.7" y1="576.6" x2="247.5" y2="576.6"/>
<rect x="91.2" y="568.7" width="11.9" height="11.3"/>
<text fill="#111" stroke="#111" stroke-width="0.1" x="73.5" y="593.7" font-size="14" text-anchor="start" font-family="Liberation Sans" >IN36</text>
<text fill="#111" stroke="#111" stroke-width="0.1" x="175" y="584.6" font-size="9.5" text-anchor="start" font-family="Liberation Sans" >12V</text>
<line x1="175.2" y1="587.4" x2="186.2" y2="587.4"/>
<line x1="180.7" y1="587.4" x2="180.7" y2="603"/>
<line x1="120.5" y1="605.8" x2="120.5" y2="626.3"/>
<line x1="124" y1="609.1" x2="124" y2="623"/>
<line x1="113.9" y1="609.4" x2="120.5" y2="609.4"/>
<line x1="113.9" y1="615.8" x2="120.5" y2="615.8"/>
<line x1="113.9" y1="622.8" x2="120.5" y2="622.8"/>
<line x1="113.9" y1="615.8" x2="113.9" y2="622.8"/>
<polyline stroke-width="1" points="116.7,614 119.3,615.8 116.7,617.6"/>
<polyline stroke-width="1" points="117.7,621 115.1,622.8 117.7,624.6"/>
<line x1="124" y1="615.8" x2="155.1" y2="615.8"/>
<polygon fill="none" points="155.1,615.8 191.5,598 191.5,633.5"/>
<line x1="180.7" y1="628" x2="180.7" y2="643.4"/>
<line x1="207.7" y1="615.8" x2="191.5" y2="615.8"/>
<text fill="#111" stroke="#111" stroke-width="0.1" x="192.6" y="608.4" font-size="9" text-anchor="start" font-family="Liberation Sans"  textLength="25" lengthAdjust="spacingAndGlyphs">EN36L</text>
<polygon fill="none" points="207.7,615.8 236,601.6 236,628.3"/>
<text fill="#111" stroke="#111" stroke-width="0.1" x="230" y="612" font-size="8" text-anchor="middle" font-family="Liberation Sans" >-</text>
<text fill="#111" stroke="#111" stroke-width="0.1" x="230" y="623" font-size="7" text-anchor="middle" font-family="Liberation Sans" >+</text>
<line x1="236" y1="609.3" x2="247.5" y2="609.3"/>
<line x1="263.4" y1="614.1" x2="236.5" y2="614.1"/>
<polygon fill="#111" points="236.5,614.1 242.5,611.1 242.5,617.1"/>
<line x1="263.4" y1="541" x2="263.4" y2="614.1"/>
<polyline points="236,619.8 247.5,619.8"/>
<line x1="103" y1="643.4" x2="247.5" y2="643.4"/>
<rect x="91.2" y="637.7" width="11.8" height="12"/>
<text fill="#111" stroke="#111" stroke-width="0.1" x="65" y="633.5" font-size="14" text-anchor="start" font-family="Liberation Sans" >GND36</text>
</g>
</svg>
</body></html>
